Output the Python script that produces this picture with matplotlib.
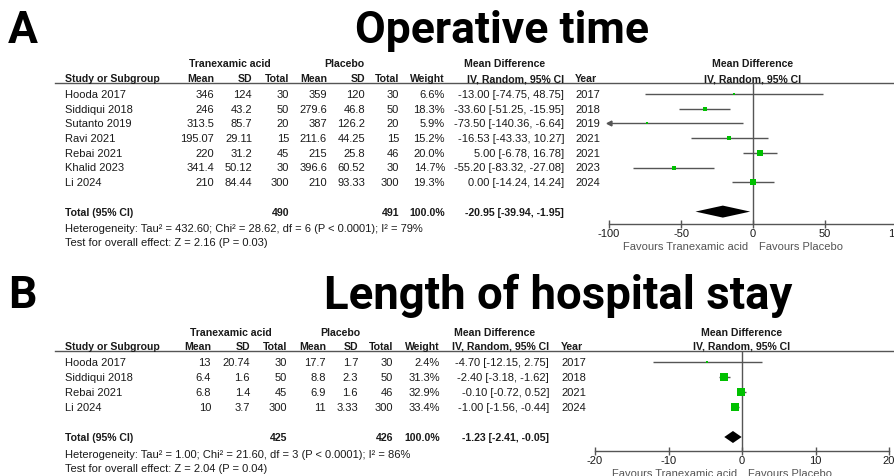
import matplotlib
matplotlib.use('Agg')
import matplotlib.pyplot as plt
from matplotlib.patches import Polygon

# --- panel A: operative time ---
studies_a = ['Hooda 2017', 'Siddiqui 2018', 'Sutanto 2019', 'Ravi 2021', 'Rebai 2021', 'Khalid 2023', 'Li 2024']
txa_mean_a = [346, 246, 313.5, 195.07, 220, 341.4, 210]
txa_sd_a = [124, 43.2, 85.7, 29.11, 31.2, 50.12, 84.44]
txa_n_a = [30, 50, 20, 15, 45, 30, 300]
pl_mean_a = [359, 279.6, 387, 211.6, 215, 396.6, 210]
pl_sd_a = [120, 46.8, 126.2, 44.25, 25.8, 60.52, 93.33]
pl_n_a = [30, 50, 20, 15, 46, 30, 300]
weight_a = [6.6, 18.3, 5.9, 15.2, 20.0, 14.7, 19.3]
md_a = [-13.00, -33.60, -73.50, -16.53, 5.00, -55.20, 0.00]
lo_a = [-74.75, -51.25, -140.36, -43.33, -6.78, -83.32, -14.24]
hi_a = [48.75, -15.95, -6.64, 10.27, 16.78, -27.08, 14.24]
year_a = [2017, 2018, 2019, 2021, 2021, 2023, 2024]
total_a = (490, 491, -20.95, -39.94, -1.95)
het_a = 'Heterogeneity: Tau² = 432.60; Chi² = 28.62, df = 6 (P < 0.0001); I² = 79%'
z_a = 'Test for overall effect: Z = 2.16 (P = 0.03)'
ticks_a = [-100, -50, 0, 50, 100]

# --- panel B: length of hospital stay ---
studies_b = ['Hooda 2017', 'Siddiqui 2018', 'Rebai 2021', 'Li 2024']
txa_mean_b = [13, 6.4, 6.8, 10]
txa_sd_b = [20.74, 1.6, 1.4, 3.7]
txa_n_b = [30, 50, 45, 300]
pl_mean_b = [17.7, 8.8, 6.9, 11]
pl_sd_b = [1.7, 2.3, 1.6, 3.33]
pl_n_b = [30, 50, 46, 300]
weight_b = [2.4, 31.3, 32.9, 33.4]
md_b = [-4.70, -2.40, -0.10, -1.00]
lo_b = [-12.15, -3.18, -0.72, -1.56]
hi_b = [2.75, -1.62, 0.52, -0.44]
year_b = [2017, 2018, 2021, 2024]
total_b = (425, 426, -1.23, -2.41, -0.05)
het_b = 'Heterogeneity: Tau² = 1.00; Chi² = 21.60, df = 3 (P < 0.0001); I² = 86%'
z_b = 'Test for overall effect: Z = 2.04 (P = 0.04)'
ticks_b = [-20, -10, 0, 10, 20]

W, H = 894, 477
TXT = '#1a1a1a'
GREY = '#555555'
GREEN = '#00c000'
FONT = 'Liberation Sans'
TITLE_FONT = ['Liberation Sans Narrow', 'Roboto', 'DejaVu Sans']

fig = plt.figure(figsize=(W / 100, H / 100), dpi=100)
bg = fig.add_axes([0, 0, 1, 1])
bg.set_xlim(0, W)
bg.set_ylim(H, 0)
bg.axis('off')


def fmt(v):
    return f'{v:g}'


def panel(letter, title, title_x, title_y, studies, tm, ts, tn, pm, psd, pn, wt, md, lo, hi, yr,
          total, het, ztxt, ticks, lay):
    y0, dy = lay['y0'], lay['dy']
    cols = lay['cols']
    fs = 8
    bfs = 7.6
    bg.text(8, title_y, letter, fontsize=32, fontweight='bold', family=TITLE_FONT, va='center', ha='left')
    bg.text(title_x, title_y, title, fontsize=lay['tfs'], fontweight='bold', family=TITLE_FONT,
            va='center', ha='center')

    # header rows
    h1, h2 = lay['h1'], lay['h2']
    kw = dict(fontsize=bfs, fontweight='bold', family=FONT, color=TXT, va='center')
    bg.text(lay['grp1'], h1, 'Tranexamic acid', ha='center', **kw)
    bg.text(lay['grp2'], h1, 'Placebo', ha='center', **kw)
    bg.text(lay['mdc'], h1, 'Mean Difference', ha='center', **kw)
    bg.text(lay['mdr'], h2, 'IV, Random, 95% CI', ha='right', **kw)
    bg.text(65, h2, 'Study or Subgroup', ha='left', **kw)
    for x, lab in zip(cols, ['Mean', 'SD', 'Total', 'Mean', 'SD', 'Total', 'Weight']):
        bg.text(x, h2, lab, ha='right', **kw)
    bg.text(lay['yrx'], h2, 'Year', ha='left', **kw)
    bg.plot([55, W], [lay['line'], lay['line']], color=GREY, lw=1)

    # study rows
    rk = dict(fontsize=fs, family=FONT, color=TXT, va='center')
    for i, s in enumerate(studies):
        y = y0 + i * dy
        bg.text(65, y, s, ha='left', **rk)
        vals = [fmt(tm[i]), fmt(ts[i]), str(tn[i]), fmt(pm[i]), fmt(psd[i]), str(pn[i]), f'{wt[i]:.1f}%']
        for x, v in zip(cols, vals):
            bg.text(x, y, v, ha='right', **rk)
        bg.text(lay['mdr'], y, f'{md[i]:.2f} [{lo[i]:.2f}, {hi[i]:.2f}]', ha='right', **rk)
        bg.text(lay['yrx'], y, str(yr[i]), ha='left', **rk)

    ti = len(studies) + 1
    yt = y0 + ti * dy
    bk = dict(fontsize=bfs, fontweight='bold', family=FONT, color=TXT, va='center')
    bg.text(65, yt, 'Total (95% CI)', ha='left', **bk)
    bg.text(cols[2], yt, str(total[0]), ha='right', **bk)
    bg.text(cols[5], yt, str(total[1]), ha='right', **bk)
    bg.text(cols[6], yt, '100.0%', ha='right', **bk)
    bg.text(lay['mdr'], yt, f'{total[2]:.2f} [{total[3]:.2f}, {total[4]:.2f}]', ha='right', **bk)
    bg.text(65, lay['het'], het, ha='left', **rk)
    bg.text(65, lay['z'], ztxt, ha='left', **rk)

    # forest axes: x in mean difference, y in row units
    xmin, xmax = ticks[0], ticks[-1]
    px_l, px_r = lay['px'](xmin), lay['px'](xmax)
    top, bot = lay['line'], lay['axis']
    ax = fig.add_axes([px_l / W, 1 - bot / H, (px_r - px_l) / W, (bot - top) / H])
    ax.set_xlim(xmin, xmax)
    ax.set_ylim((bot - y0) / dy, (top - y0) / dy)
    ax.patch.set_visible(False)
    for sp in ['top', 'left', 'right']:
        ax.spines[sp].set_visible(False)
    ax.spines['bottom'].set_color(GREY)
    ax.spines['bottom'].set_linewidth(1)
    ax.set_yticks([])
    ax.set_xticks(ticks)
    ax.set_xticklabels([str(t) for t in ticks], fontsize=fs, family=FONT, color=TXT)
    ax.tick_params(axis='x', direction='inout', length=6, width=1, color=GREY, pad=0)
    ax.axvline(0, color=GREY, lw=1)

    for i in range(len(studies)):
        a, b = max(lo[i], xmin), min(hi[i], xmax)
        ax.plot([a, b], [i, i], color=GREY, lw=1, solid_capstyle='butt')
        if lo[i] < xmin:
            ax.plot([xmin], [i], marker='<', ms=3.5, color=GREY, clip_on=False)
        ax.plot([md[i]], [i], marker='s', ms=lay['sq'] * wt[i] ** 0.5 * 0.72, color=GREEN, mew=0)

    hh = 6.0 / dy
    ax.add_patch(Polygon([(total[3], ti), (total[2], ti - hh), (total[4], ti), (total[2], ti + hh)],
                         closed=True, color='black', lw=0))

    bg.text(lay['px'](0), h1, 'Mean Difference', ha='center', **kw)
    bg.text(lay['px'](0), h2, 'IV, Random, 95% CI', ha='center', **kw)
    bg.text(lay['px'](0) - 5, lay['fav'], 'Favours Tranexamic acid', ha='right',
            fontsize=fs, family=FONT, color=GREY, va='center')
    bg.text(lay['px'](0) + 6, lay['fav'], 'Favours Placebo', ha='left',
            fontsize=fs, family=FONT, color=GREY, va='center')
    return ax


lay_a = dict(y0=95, dy=14.7, h1=64, h2=79, line=84, axis=225, fav=247, het=229, z=243,
             cols=[214, 252, 289, 327, 365, 399, 445], grp1=230, grp2=344, tfs=32, sq=1.15,
             mdc=505, mdr=564, yrx=575, px=lambda v: 753 + v * 1.44)
lay_b = dict(y0=363, dy=15, h1=333, h2=347, line=352, axis=452, fav=474, het=455, z=469,
             cols=[211, 250, 287, 326, 358, 393, 440], grp1=231, grp2=340, tfs=32.8, sq=1.3,
             mdc=495, mdr=549, yrx=561, px=lambda v: 742 + v * 7.35)

panel('A', 'Operative time', 502, 31, studies_a, txa_mean_a, txa_sd_a, txa_n_a, pl_mean_a, pl_sd_a,
      pl_n_a, weight_a, md_a, lo_a, hi_a, year_a, total_a, het_a, z_a, ticks_a, lay_a)
panel('B', 'Length of hospital stay', 558, 296, studies_b, txa_mean_b, txa_sd_b, txa_n_b, pl_mean_b,
      pl_sd_b, pl_n_b, weight_b, md_b, lo_b, hi_b, year_b, total_b, het_b, z_b, ticks_b, lay_b)

fig.savefig('out.png', dpi=100)
